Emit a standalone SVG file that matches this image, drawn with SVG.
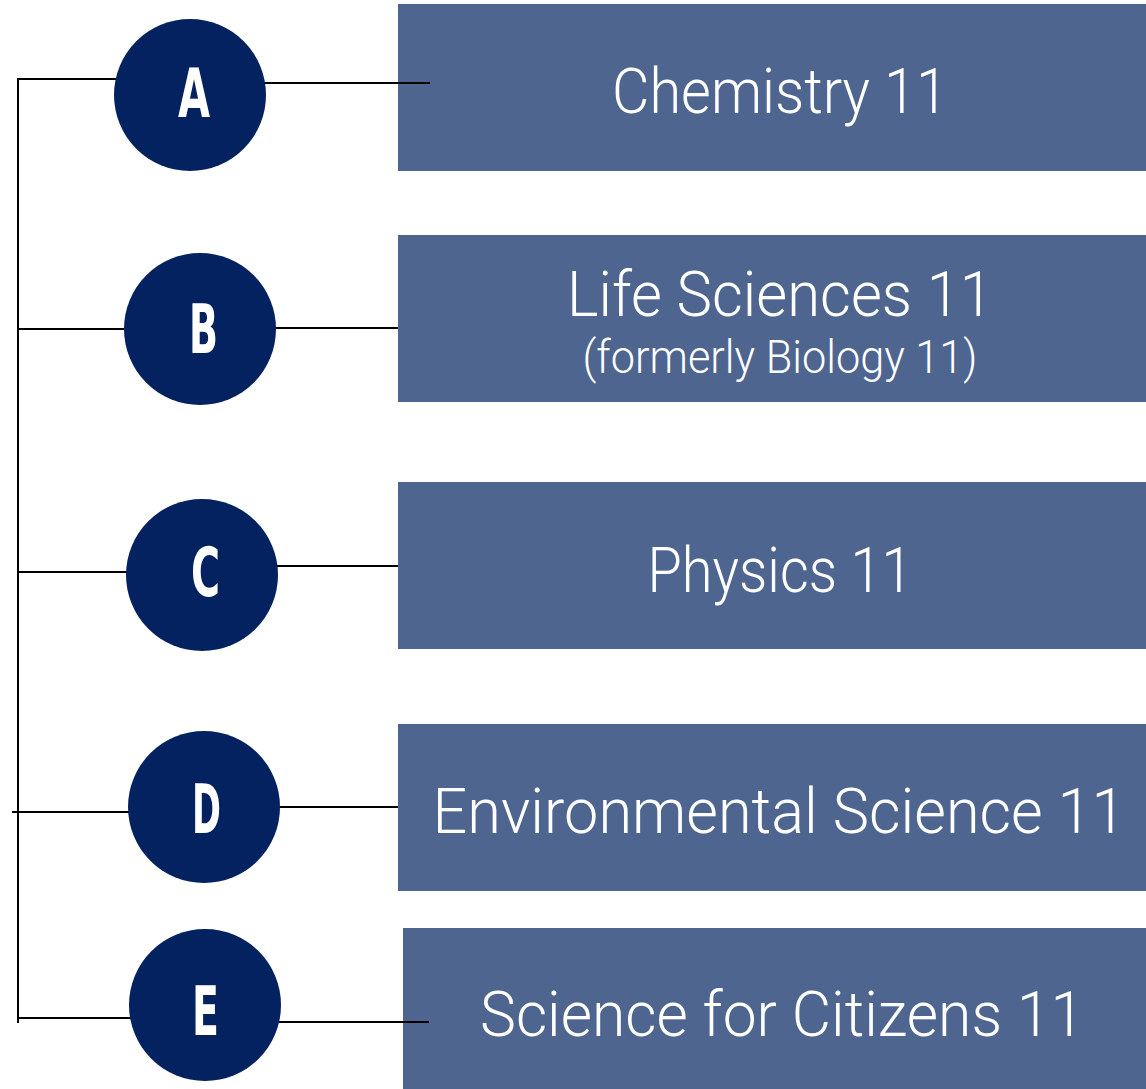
<svg xmlns="http://www.w3.org/2000/svg" width="1146" height="1089" viewBox="0 0 1146 1089">
<style>
.box{fill:#4E6590}
.dot{fill:#03225F}
.lbl{font-family:Roboto,"Liberation Sans",sans-serif;fill:#FFFFFF;text-anchor:middle;font-weight:300}
.big{font-size:58px}
.small{font-size:42px}
.let{font-family:"DejaVu Sans Condensed","DejaVu Sans",sans-serif;font-weight:bold;font-size:68px;fill:#FFFFFF;text-anchor:middle}
.wire{stroke:#000000;stroke-width:2;fill:none}
</style>
<rect width="1146" height="1089" fill="#FFFFFF"/>
<g id="box-chemistry">
<rect class="box" x="398" y="4" width="748" height="167"/>
<text class="lbl big" transform="translate(780 113) scale(1 1.1)" textLength="336" lengthAdjust="spacingAndGlyphs">Chemistry 11</text>
</g>
<g id="box-life">
<rect class="box" x="398" y="235" width="748" height="167"/>
<text class="lbl big" transform="translate(780 316) scale(1 1.1)" textLength="426" lengthAdjust="spacingAndGlyphs">Life Sciences 11</text>
<text class="lbl small" transform="translate(780 373) scale(1 1.1)" textLength="395" lengthAdjust="spacingAndGlyphs">(formerly Biology 11)</text>
</g>
<g id="box-physics">
<rect class="box" x="398" y="482" width="748" height="167"/>
<text class="lbl big" transform="translate(780 592) scale(1 1.1)" textLength="265" lengthAdjust="spacingAndGlyphs">Physics 11</text>
</g>
<g id="box-environmental">
<rect class="box" x="398" y="724" width="748" height="167"/>
<text class="lbl big" transform="translate(779 833) scale(1 1.1)" textLength="693" lengthAdjust="spacingAndGlyphs">Environmental Science 11</text>
</g>
<g id="box-citizens">
<rect class="box" x="403" y="928" width="743" height="161"/>
<text class="lbl big" transform="translate(782 1036) scale(1 1.1)" textLength="604" lengthAdjust="spacingAndGlyphs">Science for Citizens 11</text>
</g>
<g id="connectors">
<line class="wire" x1="18" y1="78" x2="18" y2="1023"/>
<line class="wire" x1="17" y1="79" x2="190" y2="79"/>
<line class="wire" x1="190" y1="83" x2="430" y2="83"/>
<line class="wire" x1="18" y1="329" x2="200" y2="329"/>
<line class="wire" x1="200" y1="328" x2="398" y2="328"/>
<line class="wire" x1="18" y1="572" x2="202" y2="572"/>
<line class="wire" x1="202" y1="566" x2="398" y2="566"/>
<line class="wire" x1="12" y1="812" x2="204" y2="812"/>
<line class="wire" x1="204" y1="807" x2="398" y2="807"/>
<line class="wire" x1="18" y1="1018" x2="205" y2="1018"/>
<line class="wire" x1="205" y1="1022" x2="429" y2="1022"/>
</g>
<g id="node-a">
<circle class="dot" cx="190" cy="95" r="76"/>
<text class="let" x="194" y="117" textLength="32" lengthAdjust="spacingAndGlyphs">A</text>
</g>
<g id="node-b">
<circle class="dot" cx="200" cy="329" r="76"/>
<text class="let" x="203.5" y="353" textLength="29" lengthAdjust="spacingAndGlyphs">B</text>
</g>
<g id="node-c">
<circle class="dot" cx="202" cy="575" r="76"/>
<text class="let" x="205.5" y="596" textLength="29" lengthAdjust="spacingAndGlyphs">C</text>
</g>
<g id="node-d">
<circle class="dot" cx="204" cy="807" r="76"/>
<text class="let" x="206.5" y="833" textLength="29" lengthAdjust="spacingAndGlyphs">D</text>
</g>
<g id="node-e">
<circle class="dot" cx="205" cy="1005" r="76"/>
<text class="let" x="205.5" y="1035" textLength="27" lengthAdjust="spacingAndGlyphs">E</text>
</g>
</svg>
